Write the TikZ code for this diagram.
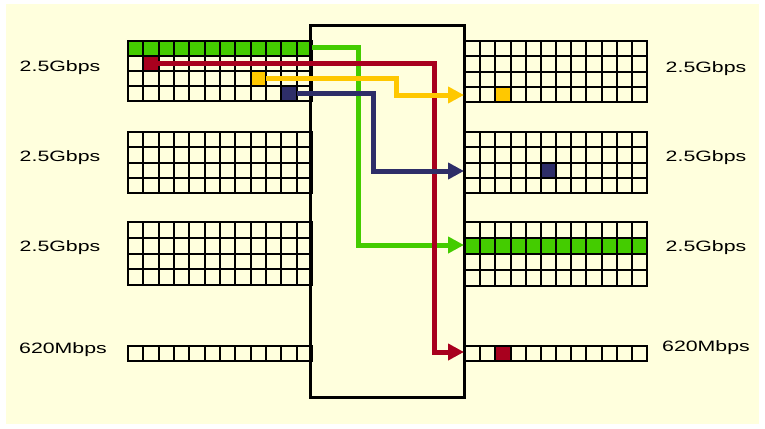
\documentclass[tikz,border=0pt]{standalone}
\usepackage{fontspec}
\setmainfont{Liberation Sans}
\usetikzlibrary{arrows.meta}
\definecolor{bgyel}{HTML}{FFFFDD}
\definecolor{cgreen}{HTML}{44CC00}
\definecolor{cred}{HTML}{A8001E}
\definecolor{cyel}{HTML}{FFC800}
\definecolor{cnavy}{HTML}{2E2E68}
\newcommand{\mygrid}[6]{% x0 y0 x1 y1 cols rows
  \pgfmathsetmacro{\gdx}{(#3-#1)/#5}
  \pgfmathsetmacro{\gdy}{(#4-#2)/#6}
  \foreach \i in {1,...,\numexpr#5-1\relax} {\draw[gridline] ({#1+\i*\gdx},#2) -- ({#1+\i*\gdx},#4);}
  \ifnum#6>1 \foreach \j in {1,...,\numexpr#6-1\relax} {\draw[gridline] (#1,{#2+\j*\gdy}) -- (#3,{#2+\j*\gdy});}\fi
  \draw[gridouter] (#1,#2) rectangle (#3,#4);
}
\begin{document}
\begin{tikzpicture}[x=1pt,y=-1pt,
  gridline/.style={line width=2pt,black},
  gridouter/.style={line width=2.8pt,black},
  cell/.style={minimum width=15.3pt,minimum height=15pt,inner sep=0pt,outer sep=0pt},
  flow/.style={line width=5pt,-{Triangle[length=16pt,width=16pt]}},
  lbl/.style={font=\fontsize{15}{17}\selectfont,inner sep=0pt,xscale=1.42}]
\useasboundingbox (0,0) rectangle (765,428);
\fill[white] (0,0) rectangle (765,428);
\fill[bgyel] (6,4) rectangle (759,424);
% central switch box
\node[draw=black,line width=2pt,minimum width=153pt,minimum height=370pt,inner sep=0pt] (box) at (387.5,211.5) {};
% coloured cells (left)
\fill[cgreen] (128,41) rectangle (312,56);
\node[cell,fill=cred] (sred) at (150.7,63.5) {};
\node[cell,fill=cyel] (syel) at (258.3,78.5) {};
\node[cell,fill=cnavy] (snavy) at (289,93.5) {};
% coloured cells (right)
\node[cell,fill=cyel] (dyel) at (502.9,94.5) {};
\node[cell,fill=cnavy] (dnavy) at (548.4,170.5) {};
\fill[cgreen] (465,238.5) rectangle (647,254.25);
\node[cell,fill=cred] (dred) at (502.9,353.5) {};
% grids left
\mygrid{128}{41}{312}{101}{12}{4}
\mygrid{128}{132}{312}{193}{12}{4}
\mygrid{128}{222}{312}{285}{12}{4}
\mygrid{128}{346}{312}{361}{12}{1}
% grids right
\mygrid{465}{41}{647}{102}{12}{4}
\mygrid{465}{132}{647}{193}{12}{4}
\mygrid{465}{222}{647}{286}{12}{4}
\mygrid{465}{346}{647}{361}{12}{1}
\draw[line width=2pt] (box.north west) rectangle (box.south east);
% labels
\node[lbl] (l1) at (60,68) {2.5Gbps};
\node[lbl] (l2) at (60,158) {2.5Gbps};
\node[lbl] (l3) at (60,248) {2.5Gbps};
\node[lbl] (l4) at (63,350) {620Mbps};
\node[lbl] (r1) at (706,69) {2.5Gbps};
\node[lbl] (r2) at (706,158) {2.5Gbps};
\node[lbl] (r3) at (706,248) {2.5Gbps};
\node[lbl] (r4) at (706,348) {620Mbps};
% arrow targets
\coordinate (tgreen) at (464,245);
\coordinate (tred) at (464,352);
\coordinate (tyel) at (464,95);
\coordinate (tnavy) at (464,171);
\coordinate (sgreen) at (312,48);
% flows
\draw[flow,cgreen] (sgreen) -- (358,48) -- (358,245) -- (tgreen);
\draw[flow,cred] (sred.east) -- (434,63.5) -- (434,352) -- (tred);
\draw[flow,cyel] (syel.east) -- (396,78.5) -- (396,95) -- (tyel);
\draw[flow,cnavy] (snavy.east) -- (373,93.5) -- (373,171) -- (tnavy);
\end{tikzpicture}
\end{document}
